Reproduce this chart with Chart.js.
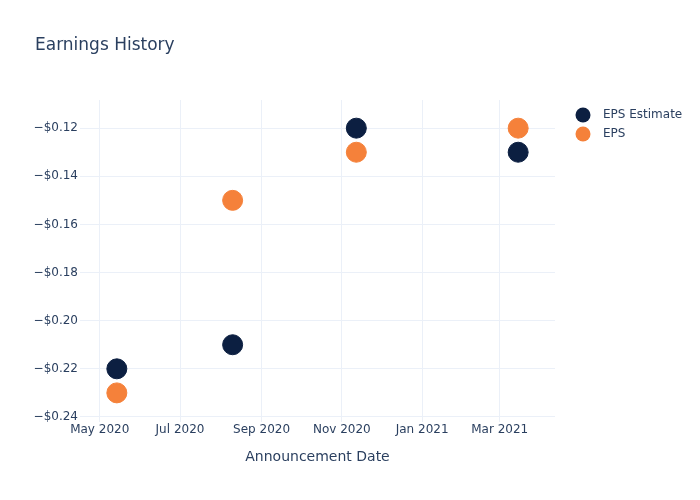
<!DOCTYPE html>
<html lang="en">
<head>
    <meta charset="UTF-8">
    <title>Earnings History</title>
    <style>
        * { margin: 0; padding: 0; box-sizing: border-box; }
        body { background: #fff; width: 700px; height: 500px; overflow: hidden; }
        .chart-container { position: relative; width: 700px; height: 500px; }
    </style>
    <script src="https://cdn.jsdelivr.net/npm/chart.js"></script>
</head>
<body>

<div class="chart-container">
    <canvas id="earningsChart"></canvas>
</div>

<script>
    // Data
    const announceDates = ['2020-05-14', '2020-08-10', '2020-11-12', '2021-03-15'];
    const epsEstimate = [-0.22, -0.21, -0.12, -0.13];
    const epsActual = [-0.23, -0.15, -0.13, -0.12];
    const xTickDates = ['2020-05-01', '2020-07-01', '2020-09-01', '2020-11-01', '2021-01-01', '2021-03-01'];
    const yTickValues = [-0.24, -0.22, -0.20, -0.18, -0.16, -0.14, -0.12];

    const MONTHS = ['Jan', 'Feb', 'Mar', 'Apr', 'May', 'Jun', 'Jul', 'Aug', 'Sep', 'Oct', 'Nov', 'Dec'];
    const toMs = s => Date.parse(s + 'T00:00:00Z');
    const textColor = '#2a3f5f';
    const gridColor = '#ebf0f8';
    const navy = '#0c1f41';
    const orange = '#f5813a';
    const FONT = '"DejaVu Sans", sans-serif';

    const estimatePoints = announceDates.map((d, i) => ({ x: toMs(d), y: epsEstimate[i] }));
    const actualPoints = announceDates.map((d, i) => ({ x: toMs(d), y: epsActual[i] }));

    // title and legend drawn by hand, Plotly-like placement
    const decorPlugin = {
        id: 'decor',
        afterDraw(chart) {
            const ctx = chart.ctx;
            ctx.save();
            ctx.fillStyle = textColor;
            ctx.textBaseline = 'middle';
            ctx.textAlign = 'left';
            ctx.font = '17px ' + FONT;
            ctx.fillText('Earnings History', 35, 46);

            const items = [
                { label: 'EPS Estimate', color: navy },
                { label: 'EPS', color: orange }
            ];
            items.forEach((it, i) => {
                const y = 115 + i * 19;
                ctx.beginPath();
                ctx.arc(583, y, 7.5, 0, Math.PI * 2);
                ctx.fillStyle = it.color;
                ctx.fill();
                ctx.fillStyle = textColor;
                ctx.font = '12px ' + FONT;
                ctx.fillText(it.label, 603, y);
            });
            ctx.restore();
        }
    };

    new Chart(document.getElementById('earningsChart'), {
        type: 'scatter',
        data: {
            datasets: [
                {
                    label: 'EPS Estimate',
                    data: estimatePoints,
                    backgroundColor: navy,
                    borderColor: navy,
                    pointRadius: 10,
                    pointHoverRadius: 10
                },
                {
                    label: 'EPS',
                    data: actualPoints,
                    backgroundColor: orange,
                    borderColor: orange,
                    pointRadius: 10,
                    pointHoverRadius: 10
                }
            ]
        },
        options: {
            responsive: true,
            maintainAspectRatio: false,
            animation: false,
            layout: { padding: { top: 100, right: 145, bottom: 0, left: 0 } },
            plugins: {
                legend: { display: false },
                title: { display: false },
                tooltip: { enabled: false }
            },
            scales: {
                x: {
                    type: 'linear',
                    min: toMs('2020-04-16'),
                    max: toMs('2021-04-12'),
                    afterFit(scale) { scale.height = 78; },
                    afterBuildTicks(scale) {
                        scale.ticks = xTickDates.map(d => ({ value: toMs(d) }));
                    },
                    grid: { color: gridColor, drawTicks: false },
                    border: { display: false },
                    ticks: {
                        color: textColor,
                        font: { family: FONT, size: 12 },
                        padding: 1,
                        maxRotation: 0,
                        autoSkip: false,
                        callback: v => {
                            const d = new Date(v);
                            return MONTHS[d.getUTCMonth()] + ' ' + d.getUTCFullYear();
                        }
                    },
                    title: {
                        display: true,
                        text: 'Announcement Date',
                        color: textColor,
                        font: { family: FONT, size: 14 },
                        padding: { top: 0, bottom: 34 }
                    }
                },
                y: {
                    min: -0.2421,
                    max: -0.1083,
                    afterFit(scale) { scale.width = 80; },
                    afterBuildTicks(scale) {
                        scale.ticks = yTickValues.map(v => ({ value: v }));
                    },
                    grid: { color: gridColor, drawTicks: false },
                    border: { display: false },
                    ticks: {
                        color: textColor,
                        font: { family: FONT, size: 12 },
                        padding: 2,
                        callback: v => '\u2212$' + Math.abs(v).toFixed(2)
                    }
                }
            }
        },
        plugins: [decorPlugin]
    });
</script>

</body>
</html>
